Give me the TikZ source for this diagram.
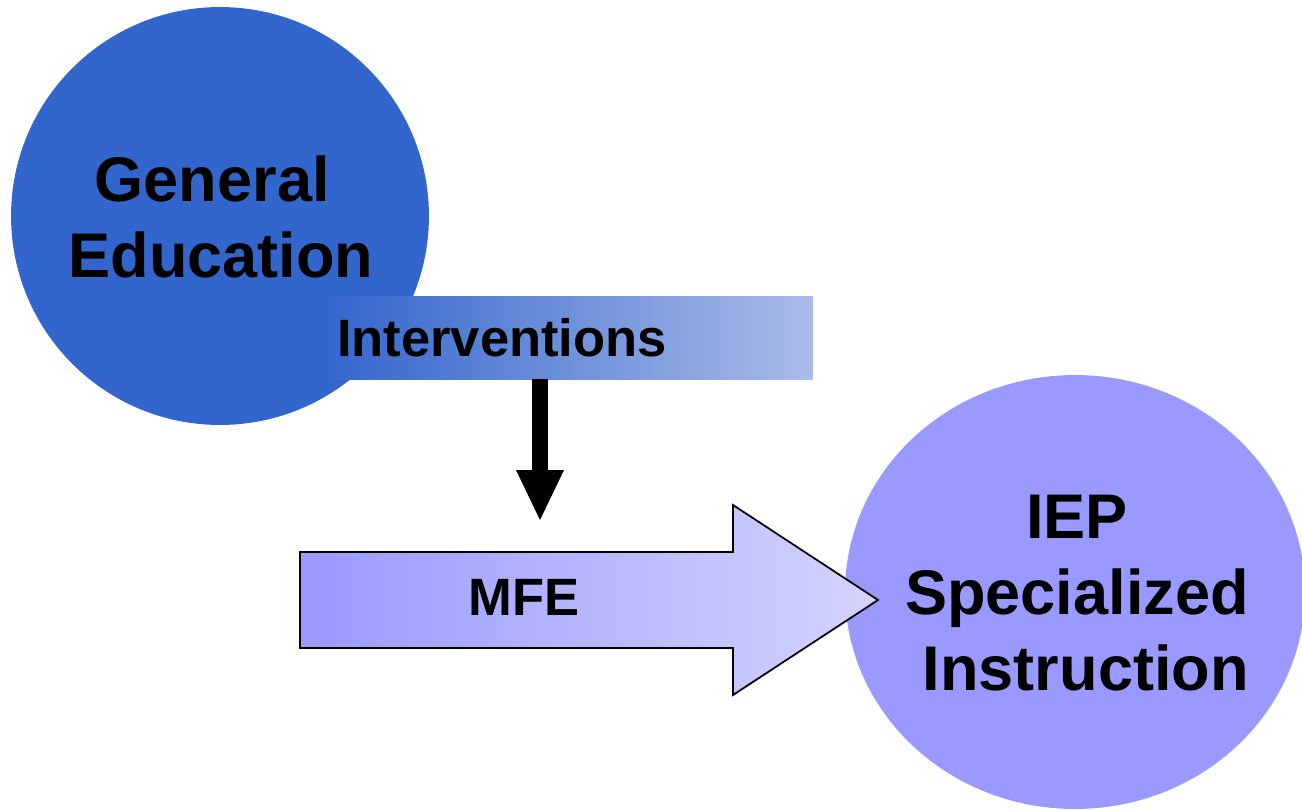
\documentclass[tikz,border=0pt]{standalone}
\usepackage{fontspec}
\setmainfont{Liberation Sans}
\usetikzlibrary{arrows.meta,shapes.geometric,positioning}

\definecolor{genblue}{HTML}{3366CC}
\definecolor{lightblue}{HTML}{AABBE8}
\definecolor{iepviolet}{HTML}{9999FF}
\definecolor{paleviolet}{HTML}{D4D4FC}

\begin{document}
\begin{tikzpicture}[
	x = 0.02cm, y = -0.02cm, % one unit per pixel, y downwards
	G/.style={circle, fill=genblue, minimum size=8.36cm, inner sep=0pt},  %general education
	E/.style={ellipse, fill=iepviolet, minimum width=9.2cm, minimum height=8.68cm, inner sep=0pt},
	L/.style={inner sep=0pt, align=center, font=\fontsize{35.9}{43.3}\selectfont\bfseries},  %big labels
	R/.style={rectangle, left color=genblue, right color=lightblue, minimum width=9.76cm, minimum height=1.66cm, inner sep=0pt},
	T/.style={inner sep=0pt, font=\fontsize{29.9}{36}\selectfont\bfseries},
	M/.style={draw=black, line width=1pt, line join=miter, left color=iepviolet, right color=paleviolet},  %big arrow
	D/.style={-{Triangle[width=0.96cm, length=1cm, line width=0pt]}, line width=0.32cm},              %drop arrow
	]

	\useasboundingbox (0,0) rectangle (1302,809);

	% Circles and their labels
	\node[G] (gen) at (220,216) {};
	\node[L] (gentxt) at (221,217) {General\hspace*{0.278em}\\Education};
	\node[E] (iep) at (1075,592) {};
	\node[L] (ieptxt) at (1077,593) {IEP\\Specialized\\\hspace*{0.278em}Instruction};

	% Interventions bar
	\node[R] (interv) at (569,337.5) {};
	\node[T] (inttxt) [right = 0.24cm of interv.west, anchor=west] {Interventions};

	% Big arrow into the IEP circle
	\draw[M] (300,552) -- (733,552) -- (733,505) -- (878,600) -- (733,695) -- (733,648) -- (300,648) -- cycle;
	\node[T] (mfe) at (524,597) {MFE};

	% Drop from interventions
	\coordinate (drop) at (540,520);
	\draw[D] (interv.south -| drop) -- (drop);

\end{tikzpicture}
\end{document}
